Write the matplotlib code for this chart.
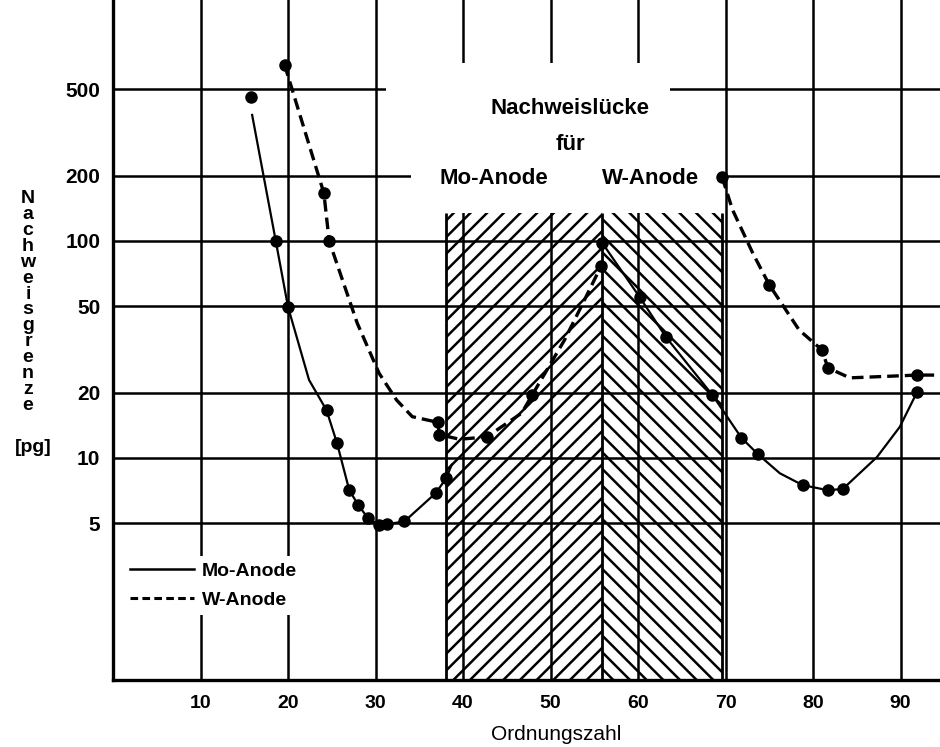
import matplotlib
matplotlib.use("Agg")
import matplotlib.pyplot as plt
from matplotlib.patches import Rectangle
from matplotlib.ticker import NullLocator

plt.rcParams['font.family'] = ['Liberation Sans', 'DejaVu Sans']
plt.rcParams['hatch.linewidth'] = 1.8

nan = float('nan')

# Mo-Anode (solid): measured points
mo_z = [15.8, 18.6, 20.0, 24.4, 25.6, 27.0, 28.0, 29.1, 30.4, 31.3, 33.3, 36.9, 38.1,
        55.9, 60.2, 63.2, 68.5, 71.8, 73.7, 78.8, 81.7, 83.4, 91.9]
mo_pg = [461, 100, 49.7, 16.6, 11.7, 7.1, 6.1, 5.3, 4.9, 4.95, 5.1, 6.9, 8.1,
         98, 55, 36, 19.5, 12.4, 10.4, 7.5, 7.1, 7.2, 20.2]
# traced curve (gap = Nachweisluecke)
mo_curve_z = [15.9, 18.6, 20.0, 22.4, 24.4, 25.6, 27.0, 28.0, 29.1, 30.4, 31.3, 33.3, 36.9, 38.1, 38.7, nan,
              55.9, 60.2, 63.2, 68.5, 71.8, 73.7, 76.2, 78.8, 81.7, 83.4, 87.3, 89.9, 91.9]
mo_curve_pg = [381, 100, 49.7, 22.9, 16.6, 11.7, 7.1, 6.1, 5.3, 4.9, 4.95, 5.1, 6.9, 8.1, 9.3, nan,
               98, 55, 36, 19.5, 12.4, 10.4, 8.5, 7.5, 7.1, 7.2, 10.1, 13.9, 20.2]

# W-Anode (dashed): measured points
w_z = [19.6, 24.1, 24.7, 37.1, 37.3, 42.7, 47.9, 55.8, 69.6, 75.0, 81.0, 81.7, 91.9]
w_pg = [650, 166, 100, 14.6, 12.8, 12.5, 19.5, 77, 197, 62.7, 31.5, 26, 24.1]
w_curve_z = [19.6, 24.1, 24.7, 27.9, 30.4, 32.4, 34.2, 37.1, 37.3, 39.6, 42.7, 46.7, 47.9, 51.6, 53.3, 55.8, nan,
             69.6, 70.8, 73.1, 75.0, 78.4, 81.0, 81.7, 84.2, 91.9, 94.5]
w_curve_pg = [650, 166, 100, 41.9, 24.6, 18.5, 15.5, 14.6, 12.8, 12.2, 12.5, 16.1, 19.5, 35, 48, 77, nan,
              197, 139, 88, 62.7, 38.9, 31.5, 26, 23.4, 24.1, 24.1]

# detection gaps: Mo-Anode (/) and W-Anode (\)
gap_mo = (38.0, 55.9)
gap_w = (55.9, 69.6)
gap_top = 134

x_ticks = [10, 20, 30, 40, 50, 60, 70, 80, 90]
y_ticks = [5, 10, 20, 50, 100, 200, 500]

fig = plt.figure(figsize=(9.4, 7.47), dpi=100)
ax = fig.add_axes([0.1202, 0.0897, 0.8798, 0.9103])
ax.set_yscale('log')
ax.set_xlim(0, 94.5)
ax.set_ylim(0.948, 1290)

ax.set_xticks(x_ticks)
ax.set_xticklabels([str(t) for t in x_ticks], family=['Liberation Sans Narrow', 'Liberation Sans'],
                   fontsize=14, fontweight='bold')
ax.set_yticks(y_ticks)
ax.set_yticklabels([str(t) for t in y_ticks], fontsize=15, fontweight='bold')
ax.yaxis.set_minor_locator(NullLocator())
ax.tick_params(axis='y', length=0, pad=9)
ax.tick_params(axis='x', length=0, pad=11)

ax.set_axisbelow(True)
ax.grid(True, color='black', linewidth=1.8)
for s in ['top', 'right']:
    ax.spines[s].set_visible(False)
for s in ['left', 'bottom']:
    ax.spines[s].set_linewidth(2.4)

# white area behind the gap caption
ax.add_patch(Rectangle((31.2, 300), 63.7 - 31.2, 660 - 300, facecolor='white', edgecolor='none', zorder=1))
ax.add_patch(Rectangle((34.1, 134), 69.0 - 34.1, 300 - 134, facecolor='white', edgecolor='none', zorder=1))

# hatched gaps
ax.fill_between(gap_mo, 0.948, gap_top, facecolor='none', edgecolor='black', linewidth=0, hatch='//', zorder=1.5)
ax.fill_between(gap_w, 0.948, gap_top, facecolor='none', edgecolor='black', linewidth=0, hatch='\\\\', zorder=1.5)
ax.vlines([gap_mo[0], gap_mo[1], gap_w[1]], 0.948, gap_top, color='black', linewidth=2, zorder=1.6)

ax.plot(mo_curve_z, mo_curve_pg, color='black', linewidth=1.6, zorder=3)
ax.plot(mo_z, mo_pg, 'o', color='black', markersize=8, zorder=4)
ax.plot(w_curve_z, w_curve_pg, color='black', linewidth=2.4, dashes=(3.5, 1.8), zorder=3)
ax.plot(w_z, w_pg, 'o', color='black', markersize=8, zorder=4)

h1, = ax.plot([], [], color='black', linewidth=1.8, label='Mo-Anode')
h2, = ax.plot([], [], color='black', linewidth=2.2, dashes=(2.5, 1.4), label='W-Anode')
ax.legend(handles=[h1, h2], loc='upper left', bbox_to_anchor=(0.002, 0.196), frameon=True,
          facecolor='white', edgecolor='none', framealpha=1, fancybox=False,
          handlelength=3.3, handletextpad=0.4, labelspacing=0.6, borderpad=0.3,
          prop=dict(weight='bold', size=14))

def fx(px):
    return px / 940.0

def fy(py):
    return 1 - py / 747.0

fig.text(fx(570), fy(109), 'Nachweislücke', ha='center', va='center', fontsize=16, fontweight='bold')
fig.text(fx(570), fy(144), 'für', ha='center', va='center', fontsize=16, fontweight='bold')
fig.text(fx(494), fy(178), 'Mo-Anode', ha='center', va='center', fontsize=16, fontweight='bold')
fig.text(fx(651), fy(178), 'W-Anode', ha='center', va='center', fontsize=16, fontweight='bold')

fig.text(fx(28), fy(302), '\n'.join('Nachweisgrenze'), ha='center', va='center',
         fontsize=14, fontweight='bold', linespacing=0.92)
fig.text(fx(33), fy(447), '[pg]', ha='center', va='center', fontsize=14, fontweight='bold')
fig.text(fx(556), fy(734), 'Ordnungszahl', ha='center', va='center',
         family=['Liberation Sans Narrow', 'Liberation Sans'], fontsize=15)

fig.savefig('out.png', dpi=100)
